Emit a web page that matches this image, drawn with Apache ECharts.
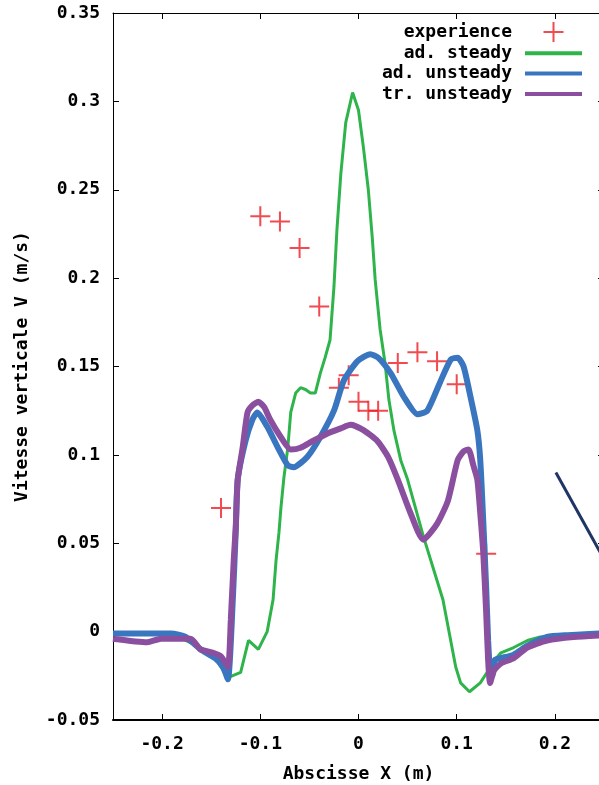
<!DOCTYPE html>
<html>
<head>
<meta charset="utf-8">
<script src="https://cdn.jsdelivr.net/npm/echarts@6/dist/echarts.min.js"></script>
<style>
  html, body { margin: 0; padding: 0; background: #fff; }
  #chart { width: 599px; height: 785px; }
</style>
</head>
<body>
<div id="chart"></div>
<script>
// Tick positions
const xTicks = [-0.2, -0.1, 0, 0.1, 0.2];
const yTicks = [-0.05, 0, 0.05, 0.1, 0.15, 0.2, 0.25, 0.3, 0.35];

// Measured vertical velocity (x, V)
const experience = [
  [-0.14, 0.070], [-0.10, 0.235], [-0.08, 0.232], [-0.06, 0.217], [-0.04, 0.184],
  [-0.02, 0.138], [-0.01, 0.145], [0.00, 0.130], [0.01, 0.125], [0.02, 0.125],
  [0.04, 0.152], [0.06, 0.158], [0.08, 0.153], [0.10, 0.140], [0.13, 0.044]
];

// Adiabatic steady model
const adSteady = [
  [-0.25, -0.001], [-0.212, -0.001], [-0.191, -0.001], [-0.176, -0.005], [-0.161, -0.009],
  [-0.146, -0.015], [-0.133, -0.026], [-0.120, -0.023], [-0.112, -0.005], [-0.102, -0.010],
  [-0.093, 0.000], [-0.087, 0.018], [-0.084, 0.040], [-0.081, 0.056], [-0.079, 0.070],
  [-0.076, 0.087], [-0.072, 0.104], [-0.069, 0.124], [-0.064, 0.135], [-0.059, 0.138],
  [-0.054, 0.137], [-0.049, 0.135], [-0.044, 0.135], [-0.039, 0.146], [-0.034, 0.155],
  [-0.029, 0.165], [-0.027, 0.180], [-0.025, 0.195], [-0.022, 0.227], [-0.018, 0.259],
  [-0.013, 0.288], [-0.006, 0.305], [0.000, 0.295], [0.005, 0.274], [0.010, 0.250],
  [0.014, 0.223], [0.017, 0.199], [0.022, 0.171], [0.027, 0.152], [0.031, 0.131],
  [0.036, 0.114], [0.043, 0.097], [0.050, 0.086], [0.066, 0.054], [0.086, 0.018],
  [0.099, -0.020], [0.104, -0.029], [0.113, -0.034], [0.124, -0.029], [0.131, -0.023],
  [0.136, -0.018], [0.145, -0.012], [0.158, -0.009], [0.172, -0.005], [0.185, -0.003],
  [0.206, -0.002], [0.25, -0.001]
];

// Adiabatic unsteady model
const adUnsteady = [
  [-0.25, -0.001], [-0.191, -0.001], [-0.176, -0.003], [-0.161, -0.010], [-0.146, -0.015],
  [-0.138, -0.020], [-0.133, -0.027], [-0.128, 0.018], [-0.125, 0.057], [-0.123, 0.086],
  [-0.115, 0.108], [-0.108, 0.120], [-0.103, 0.124], [-0.093, 0.116], [-0.082, 0.104],
  [-0.072, 0.094], [-0.066, 0.093], [-0.052, 0.099], [-0.039, 0.110], [-0.025, 0.125],
  [-0.015, 0.142], [-0.001, 0.153], [0.012, 0.157], [0.020, 0.155], [0.033, 0.146],
  [0.046, 0.133], [0.060, 0.123], [0.070, 0.125], [0.083, 0.141], [0.094, 0.154],
  [0.101, 0.155], [0.107, 0.150], [0.114, 0.133], [0.121, 0.114], [0.124, 0.097],
  [0.127, 0.063], [0.130, 0.025], [0.132, -0.005], [0.134, -0.022], [0.136, -0.025],
  [0.139, -0.016], [0.145, -0.015], [0.158, -0.013], [0.172, -0.008], [0.192, -0.003],
  [0.213, -0.002], [0.25, -0.001]
];

// Transient unsteady model
const trUnsteady = [
  [-0.25, -0.004], [-0.215, -0.006], [-0.201, -0.004], [-0.171, -0.004], [-0.161, -0.010],
  [-0.148, -0.012], [-0.140, -0.014], [-0.133, -0.020], [-0.130, 0.007], [-0.127, 0.041],
  [-0.125, 0.059], [-0.123, 0.086], [-0.118, 0.104], [-0.113, 0.124], [-0.108, 0.128],
  [-0.102, 0.130], [-0.096, 0.127], [-0.090, 0.120], [-0.079, 0.110], [-0.069, 0.103],
  [-0.059, 0.104], [-0.046, 0.108], [-0.032, 0.112], [-0.018, 0.115], [-0.008, 0.117],
  [0.005, 0.114], [0.019, 0.108], [0.030, 0.099], [0.040, 0.086], [0.053, 0.067],
  [0.066, 0.052], [0.080, 0.061], [0.091, 0.074], [0.101, 0.097], [0.107, 0.102],
  [0.112, 0.103], [0.117, 0.094], [0.121, 0.086], [0.124, 0.067], [0.127, 0.045],
  [0.130, 0.011], [0.132, -0.016], [0.134, -0.029], [0.138, -0.022], [0.145, -0.018],
  [0.158, -0.015], [0.172, -0.009], [0.192, -0.005], [0.219, -0.003], [0.25, -0.002]
];

// Straight segment on the right
const rightSegment = [[0.201, 0.090], [0.25, 0.041]];

const FONT = '"DejaVu Sans Mono", "Liberation Mono", monospace';
const crossPath = 'path://M0,9h9v-9h2v9h9v2h-9v9h-2v-9h-9z';
const barPath = 'path://M0,0h57v4h-57z';

const chart = echarts.init(document.getElementById('chart'), null, { renderer: 'canvas' });

const tickLabel = (v) => {
  const r = Math.round(v * 100) / 100;
  return r === 0 ? '0' : String(r);
};

chart.setOption({
  animation: false,
  backgroundColor: '#ffffff',
  textStyle: { fontFamily: FONT, fontWeight: 'bold', fontSize: 18, color: '#000' },
  grid: { left: 113, right: -5, top: 13, bottom: 65, containLabel: false, outerBoundsMode: 'none' },
  legend: {
    data: [
      { name: 'experience', icon: crossPath },
      { name: 'ad. steady', icon: barPath },
      { name: 'ad. unsteady', icon: barPath },
      { name: 'tr. unsteady', icon: barPath }
    ],
    orient: 'vertical',
    align: 'right',
    right: 17,
    top: 22,
    padding: 0,
    itemWidth: 57,
    itemHeight: 20,
    itemGap: 2.3,
    selectedMode: false,
    textStyle: { fontFamily: FONT, fontWeight: 'bold', fontSize: 18, color: '#000', padding: [0, 8, 0, 0] }
  },
  xAxis: [
    {
      type: 'value', min: -0.25, max: 0.25, position: 'bottom',
      name: 'Abscisse X (m)', nameLocation: 'middle', nameGap: 45,
      nameTextStyle: { fontFamily: FONT, fontWeight: 'bold', fontSize: 18, color: '#000' },
      axisLine: { show: true, onZero: false, lineStyle: { color: '#000', width: 2 } },
      axisTick: { show: true, inside: true, length: 6, customValues: xTicks, lineStyle: { color: '#000', width: 1 } },
      axisLabel: { show: true, margin: 15, customValues: xTicks, formatter: tickLabel,
        fontFamily: FONT, fontWeight: 'bold', fontSize: 18, color: '#000' },
      splitLine: { show: false }
    },
    {
      type: 'value', min: -0.25, max: 0.25, position: 'top',
      axisLine: { show: true, onZero: false, lineStyle: { color: '#000', width: 1 } },
      axisTick: { show: true, inside: true, length: 6, customValues: xTicks, lineStyle: { color: '#000', width: 1 } },
      axisLabel: { show: false },
      splitLine: { show: false }
    }
  ],
  yAxis: [
    {
      type: 'value', min: -0.05, max: 0.35, position: 'left',
      name: 'Vitesse verticale V (m/s)', nameLocation: 'middle', nameGap: 82, nameRotate: 90,
      nameTextStyle: { fontFamily: FONT, fontWeight: 'bold', fontSize: 18, color: '#000' },
      axisLine: { show: true, onZero: false, lineStyle: { color: '#000', width: 1 } },
      axisTick: { show: true, inside: true, length: 6, customValues: yTicks, lineStyle: { color: '#000', width: 1 } },
      axisLabel: { show: true, margin: 13, customValues: yTicks, formatter: tickLabel,
        fontFamily: FONT, fontWeight: 'bold', fontSize: 18, color: '#000' },
      splitLine: { show: false }
    },
    {
      type: 'value', min: -0.05, max: 0.35, position: 'right',
      axisLine: { show: true, onZero: false, lineStyle: { color: '#000', width: 1 } },
      axisTick: { show: true, inside: true, length: 6, customValues: yTicks, lineStyle: { color: '#000', width: 1 } },
      axisLabel: { show: false },
      splitLine: { show: false }
    }
  ],
  series: [
    {
      name: 'experience', type: 'scatter', data: experience,
      symbol: crossPath, symbolSize: 20,
      itemStyle: { color: '#ee1d24' }, z: 2
    },
    {
      name: 'ad. steady', type: 'line', data: adSteady,
      showSymbol: false, symbol: 'none',
      lineStyle: { color: '#2fb44b', width: 3 }, itemStyle: { color: '#2fb44b' }, z: 3
    },
    {
      name: 'ad. unsteady', type: 'line', data: adUnsteady,
      showSymbol: false, symbol: 'none', smooth: 0.2,
      lineStyle: { color: '#3a75bf', width: 6 }, itemStyle: { color: '#3a75bf' }, z: 4
    },
    {
      name: 'tr. unsteady', type: 'line', data: trUnsteady,
      showSymbol: false, symbol: 'none', smooth: 0.2,
      lineStyle: { color: '#8b4fa0', width: 6 }, itemStyle: { color: '#8b4fa0' }, z: 5
    },
    {
      name: 'segment', type: 'line', data: rightSegment,
      showSymbol: false, symbol: 'none',
      lineStyle: { color: '#1f3566', width: 3 }, itemStyle: { color: '#1f3566' }, z: 6
    }
  ]
});
</script>
</body>
</html>
